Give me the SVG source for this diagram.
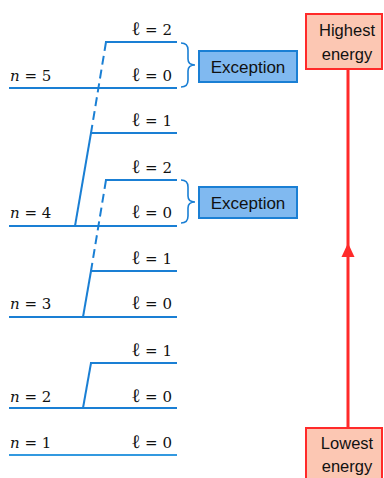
<svg xmlns="http://www.w3.org/2000/svg" width="384" height="478" viewBox="0 0 384 478">
<defs>
<style>
.lv{stroke:#1a7fd4;stroke-width:2;fill:none}
.ds{stroke:#1a7fd4;stroke-width:2;fill:none;stroke-dasharray:9 5}
.br{stroke:#1a7fd4;stroke-width:1.6;fill:none}
.lb{font-family:"DejaVu Serif","Liberation Serif",serif;font-size:15px;fill:#111}
.it{font-style:italic}
.l{font-size:19px}
.ex rect{fill:#80b9f0;stroke:#1a7fd4;stroke-width:2}
.ex text{font-family:"Liberation Sans",Arial,sans-serif;font-size:17px;fill:#111;text-anchor:middle}
.en rect{fill:#fcc7b3;stroke:#ff2a2a;stroke-width:2}
.en text{font-family:"Liberation Sans",Arial,sans-serif;font-size:16.5px;fill:#111;text-anchor:middle}
</style>
</defs>
<g id="connectors">
<line class="ds" x1="106" y1="42" x2="91" y2="133"/>
<line class="lv" x1="91" y1="133" x2="75" y2="226"/>
<line class="ds" x1="106" y1="180" x2="91" y2="271"/>
<line class="lv" x1="91" y1="271" x2="83" y2="317"/>
<line class="lv" x1="91" y1="363" x2="83" y2="408"/>
<path class="br" d="M181,43 Q188,43 188,50 L188,59 Q188,65 195,65 Q188,65 188,71 L188,80 Q188,87 181,87"/>
<path class="br" d="M181,180 Q188,180 188,187 L188,196 Q188,202 195,202 Q188,202 188,208 L188,216 Q188,223 181,223"/>
<line x1="348" y1="428" x2="348" y2="69" stroke="#ff2a2a" stroke-width="3"/>
<polygon points="348,243 354.5,257 341.5,257" fill="#ff2a2a"/>
</g>
<g id="n5">
<line class="lv" x1="9" y1="88" x2="177" y2="88"/>
<text class="lb" x="10" y="81"><tspan class="it">n</tspan> = 5</text>
<text class="lb" x="172" y="81" text-anchor="end"><tspan class="l">ℓ</tspan> = 0</text>
</g>
<g id="n5l2">
<line class="lv" x1="105" y1="42" x2="177" y2="42"/>
<text class="lb" x="172" y="35" text-anchor="end"><tspan class="l">ℓ</tspan> = 2</text>
</g>
<g id="n5l1">
<line class="lv" x1="90" y1="133" x2="177" y2="133"/>
<text class="lb" x="172" y="126" text-anchor="end"><tspan class="l">ℓ</tspan> = 1</text>
</g>
<g id="n4l2">
<line class="lv" x1="105" y1="180" x2="177" y2="180"/>
<text class="lb" x="172" y="173" text-anchor="end"><tspan class="l">ℓ</tspan> = 2</text>
</g>
<g id="n4">
<line class="lv" x1="9" y1="226" x2="177" y2="226"/>
<text class="lb" x="10" y="218"><tspan class="it">n</tspan> = 4</text>
<text class="lb" x="172" y="218" text-anchor="end"><tspan class="l">ℓ</tspan> = 0</text>
</g>
<g id="n4l1">
<line class="lv" x1="90" y1="271" x2="177" y2="271"/>
<text class="lb" x="172" y="264" text-anchor="end"><tspan class="l">ℓ</tspan> = 1</text>
</g>
<g id="n3">
<line class="lv" x1="9" y1="317" x2="177" y2="317"/>
<text class="lb" x="10" y="309"><tspan class="it">n</tspan> = 3</text>
<text class="lb" x="172" y="309" text-anchor="end"><tspan class="l">ℓ</tspan> = 0</text>
</g>
<g id="n3l1">
<line class="lv" x1="90" y1="363" x2="177" y2="363"/>
<text class="lb" x="172" y="356" text-anchor="end"><tspan class="l">ℓ</tspan> = 1</text>
</g>
<g id="n2">
<line class="lv" x1="9" y1="408" x2="177" y2="408"/>
<text class="lb" x="10" y="402"><tspan class="it">n</tspan> = 2</text>
<text class="lb" x="172" y="402" text-anchor="end"><tspan class="l">ℓ</tspan> = 0</text>
</g>
<g id="n1">
<line x1="9" y1="455" x2="177" y2="455" stroke="#3399e0" stroke-width="2"/>
<text class="lb" x="10" y="448"><tspan class="it">n</tspan> = 1</text>
<text class="lb" x="172" y="448" text-anchor="end"><tspan class="l">ℓ</tspan> = 0</text>
</g>
<g id="exception1" class="ex">
<rect x="199" y="51" width="98" height="31"/>
<text x="248" y="73">Exception</text>
</g>
<g id="exception2" class="ex">
<rect x="199" y="187" width="98" height="31"/>
<text x="248" y="209">Exception</text>
</g>
<g id="highest" class="en">
<rect x="306" y="14" width="76" height="55"/>
<text x="347" y="36">Highest</text>
<text x="347" y="60">energy</text>
</g>
<g id="lowest" class="en">
<rect x="306" y="428" width="76" height="60"/>
<text x="347" y="449">Lowest</text>
<text x="347" y="472">energy</text>
</g>
</svg>
